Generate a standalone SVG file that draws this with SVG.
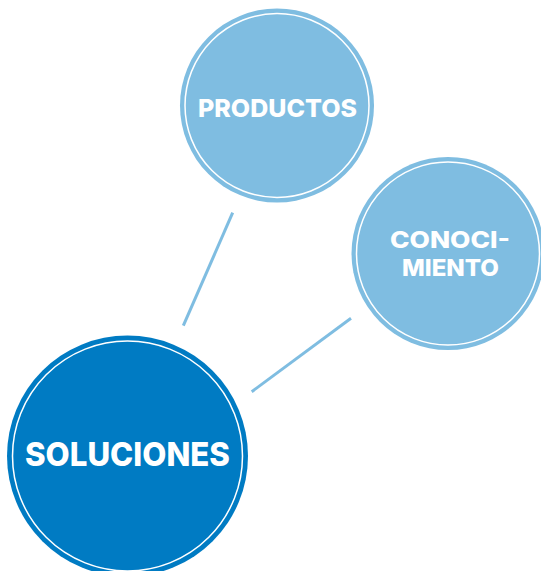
<svg xmlns="http://www.w3.org/2000/svg" width="541" height="571" viewBox="0 0 541 571">
<style>
.light{fill:#7fbde1}
.dark{fill:#007bc3}
.ring{fill:none;stroke:#ffffff;stroke-width:1.5}
.lbl{font-family:Inter,"Open Sans",sans-serif;font-weight:800;fill:#ffffff;text-anchor:middle}
.conn{stroke:#7fbde1;stroke-width:3;fill:none}
</style>
<rect width="541" height="571" fill="#ffffff"/>
<g id="connectors">
<line class="conn" x1="232.7" y1="212.7" x2="183.3" y2="325.7"/>
<line class="conn" x1="351" y1="318.3" x2="251.7" y2="391.7"/>
</g>
<g id="productos">
<circle class="light" cx="277" cy="105.5" r="97"/>
<circle class="ring" cx="277" cy="105.5" r="92"/>
<text class="lbl" x="277.5" y="117" font-size="25" textLength="159" lengthAdjust="spacingAndGlyphs">PRODUCTOS</text>
</g>
<g id="conocimiento">
<circle class="light" cx="448" cy="253.5" r="96.5"/>
<circle class="ring" cx="448" cy="253.5" r="91.5"/>
<text class="lbl" x="450" y="248" font-size="23.5" textLength="120" lengthAdjust="spacingAndGlyphs">CONOCI-</text>
<text class="lbl" x="450.5" y="276" font-size="23.5" textLength="97" lengthAdjust="spacingAndGlyphs">MIENTO</text>
</g>
<g id="soluciones">
<circle class="dark" cx="127.5" cy="456" r="120.5"/>
<circle class="ring" cx="127.5" cy="456" r="115"/>
<text class="lbl" x="127.5" y="466" font-size="33" textLength="205" lengthAdjust="spacingAndGlyphs">SOLUCIONES</text>
</g>
</svg>
